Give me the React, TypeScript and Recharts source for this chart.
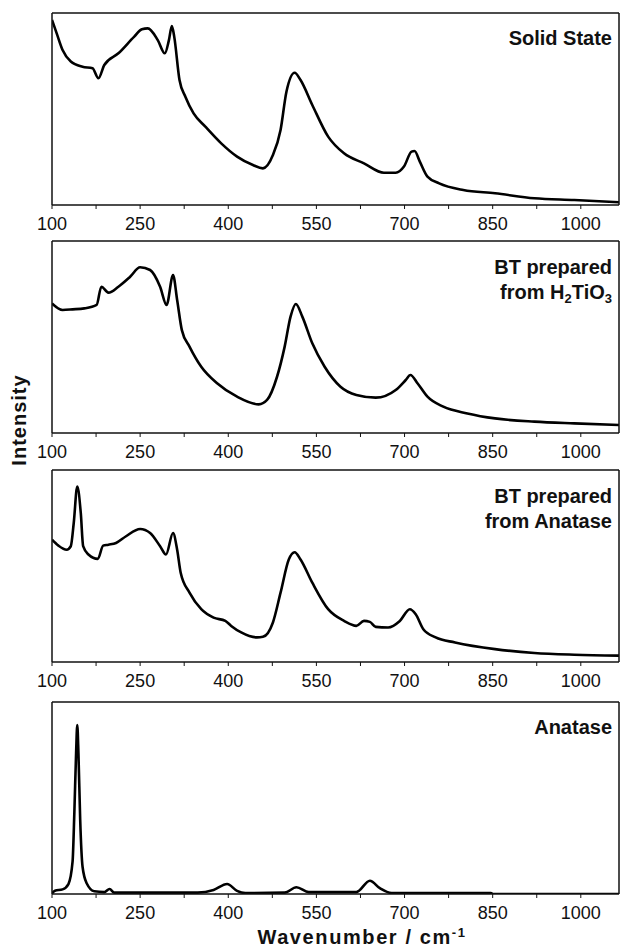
import React from 'react';
import { LineChart, Line, XAxis, YAxis } from 'recharts';

// Wavenumber (cm-1) and relative intensity (0-100 of panel height)
const SOLID_WN = [100, 108, 118, 132, 152, 169, 179, 189, 213, 240, 253, 263, 280, 292, 299, 304, 308, 317, 327, 341, 361, 388, 415, 442, 459, 476, 489, 499, 513, 523, 543, 570, 597, 631, 665, 685, 699, 712, 717, 726, 739, 759, 800, 854, 921, 989, 1065];
const SOLID_I = [96.4, 89.4, 80.7, 74.7, 72.0, 71.2, 66.0, 72.9, 79.0, 87.7, 91.5, 92.0, 85.9, 79.0, 85.9, 93.2, 87.7, 65.1, 56.4, 47.7, 40.8, 32.1, 25.2, 20.8, 19.1, 26.0, 39.1, 59.0, 68.9, 65.1, 52.1, 35.6, 26.9, 21.7, 16.8, 16.8, 20.0, 27.8, 28.1, 22.6, 14.8, 11.3, 7.8, 6.1, 3.5, 2.6, 1.4];

const H2TIO3_WN = [100, 118, 135, 155, 176, 184, 196, 213, 233, 250, 267, 284, 295, 306, 313, 321, 334, 354, 381, 415, 452, 466, 483, 496, 506, 515, 526, 543, 564, 591, 618, 651, 685, 702, 710, 722, 739, 766, 807, 854, 921, 989, 1065];
const H2TIO3_I = [67.5, 64.1, 64.4, 64.9, 66.7, 76.2, 73.1, 76.2, 81.4, 86.3, 84.9, 76.2, 66.7, 82.3, 69.3, 53.6, 45.0, 34.5, 25.9, 18.9, 14.9, 17.2, 29.3, 45.0, 60.6, 67.2, 60.6, 46.7, 34.5, 24.1, 19.8, 18.4, 22.4, 27.6, 30.2, 25.9, 18.9, 13.7, 10.2, 7.6, 5.9, 5.0, 4.2];

const BTANA_WN = [100, 111, 125, 132, 137, 143, 149, 153, 162, 178, 187, 196, 209, 226, 250, 267, 284, 294, 306, 313, 319, 334, 354, 375, 395, 405, 422, 449, 459, 476, 489, 503, 513, 523, 543, 570, 597, 618, 631, 641, 651, 672, 692, 709, 719, 732, 753, 786, 854, 921, 989, 1065];
const BTANA_I = [63.7, 60.6, 58.5, 60.3, 72.4, 91.4, 77.5, 60.3, 56.0, 53.7, 60.6, 61.1, 62.0, 65.5, 69.3, 67.2, 60.3, 56.0, 67.2, 58.5, 46.5, 36.1, 27.5, 23.1, 21.4, 18.8, 15.4, 12.8, 13.1, 20.6, 36.1, 53.4, 57.2, 53.4, 41.3, 27.5, 21.4, 18.8, 21.4, 20.9, 18.3, 18.0, 21.4, 27.5, 24.9, 17.1, 12.8, 10.2, 6.7, 4.7, 3.8, 3.3];

const ANATASE_WN = [100, 105, 118, 128, 135, 138, 141, 143, 145, 148, 152, 159, 172, 189, 198, 206, 348, 375, 398, 415, 429, 496, 516, 537, 618, 641, 658, 678, 847, 851, 1065];
const ANATASE_I = [0.3, 1.7, 2.4, 5.2, 16.8, 42.0, 73.3, 88.0, 73.3, 38.5, 14.2, 5.6, 1.4, 1.0, 2.6, 0.7, 0.7, 2.1, 5.2, 1.6, 0.5, 0.7, 3.5, 1.0, 1.0, 6.9, 3.0, 0.5, 0.5, 0, 0];

const X_TICKS = [100, 175, 250, 325, 400, 475, 550, 625, 700, 775, 850, 925, 1000];
const X_DOMAIN: [number, number] = [100, 1065];

const FONT = '"Liberation Sans", Arial, Helvetica, sans-serif';
const INK = '#111';

const build = (xs: number[], ys: number[]) => xs.map((w, k) => ({ w, v: ys[k] }));

const fmt = (v: number) => ((v - 100) % 150 === 0 ? String(v) : '');

const labelStyle: React.CSSProperties = {
  position: 'absolute',
  right: 10,
  fontFamily: FONT,
  fontWeight: 700,
  fontSize: 20,
  lineHeight: '25px',
  textAlign: 'right',
  color: INK,
  whiteSpace: 'nowrap',
};

const sub: React.CSSProperties = { fontSize: 13, verticalAlign: -4 };

function Panel({ top, data, label, labelTop }: { top: number; data: { w: number; v: number }[]; label: React.ReactNode; labelTop: number }) {
  const axisLine = { stroke: INK, strokeWidth: 1.5 };
  return (
    <>
      <div style={{ position: 'absolute', left: 0, top }}>
        <LineChart width={622} height={240} data={data} margin={{ top: 12, right: 2, bottom: 0, left: 51 }}>
          <XAxis
            dataKey="w"
            type="number"
            domain={X_DOMAIN}
            ticks={X_TICKS}
            interval={0}
            allowDataOverflow
            tickFormatter={fmt}
            tickSize={4}
            tickMargin={8}
            height={35}
            axisLine={axisLine}
            tickLine={{ stroke: INK, strokeWidth: 1 }}
            tick={{ fontSize: 18, fill: INK, fontFamily: FONT }}
          />
          <XAxis
            xAxisId="top"
            orientation="top"
            dataKey="w"
            type="number"
            domain={X_DOMAIN}
            allowDataOverflow
            height={1}
            tick={false}
            tickLine={false}
            axisLine={axisLine}
          />
          <YAxis type="number" domain={[0, 100]} allowDataOverflow width={1} tick={false} tickLine={false} axisLine={axisLine} />
          <YAxis yAxisId="right" orientation="right" type="number" domain={[0, 100]} width={1} tick={false} tickLine={false} axisLine={axisLine} />
          <Line dataKey="v" type="monotone" stroke="#000" strokeWidth={2.6} dot={false} isAnimationActive={false} />
        </LineChart>
      </div>
      <div style={{ ...labelStyle, top: labelTop }}>{label}</div>
    </>
  );
}

export default function App() {
  return (
    <div style={{ position: 'absolute', left: 0, top: 0, width: 622, height: 951, background: '#fff', overflow: 'hidden' }}>
      <Panel top={0} data={build(SOLID_WN, SOLID_I)} labelTop={26} label={<>Solid State</>} />
      <Panel
        top={228}
        data={build(H2TIO3_WN, H2TIO3_I)}
        labelTop={255}
        label={
          <>
            BT prepared
            <br />
            from H<span style={sub}>2</span>TiO<span style={sub}>3</span>
          </>
        }
      />
      <Panel
        top={457}
        data={build(BTANA_WN, BTANA_I)}
        labelTop={484}
        label={
          <>
            BT prepared
            <br />
            from Anatase
          </>
        }
      />
      <Panel top={689} data={build(ANATASE_WN, ANATASE_I)} labelTop={715} label={<>Anatase</>} />
      <div
        style={{
          position: 'absolute',
          left: 19,
          top: 420,
          transform: 'translate(-50%, -50%) rotate(-90deg)',
          fontFamily: FONT,
          fontWeight: 700,
          fontSize: 20,
          letterSpacing: 1,
          lineHeight: 1,
          color: INK,
          whiteSpace: 'nowrap',
        }}
      >
        Intensity
      </div>
      <div
        style={{
          position: 'absolute',
          left: 0,
          width: 724,
          top: 926,
          textAlign: 'center',
          fontFamily: FONT,
          fontWeight: 700,
          fontSize: 20,
          letterSpacing: 1.6,
          lineHeight: '22px',
          color: INK,
          whiteSpace: 'nowrap',
        }}
      >
        Wavenumber / cm<span style={{ fontSize: 13, verticalAlign: 7, lineHeight: 1 }}>-1</span>
      </div>
    </div>
  );
}
